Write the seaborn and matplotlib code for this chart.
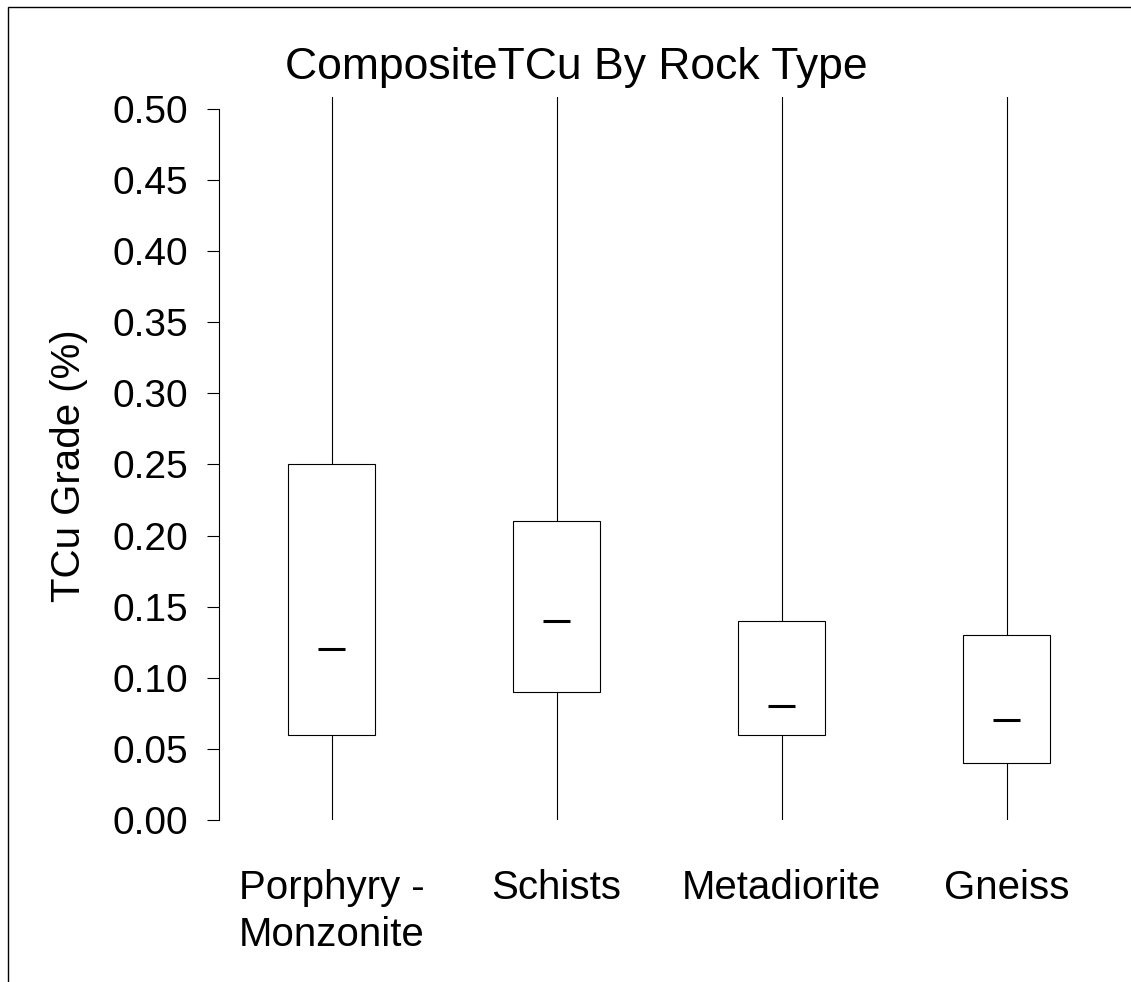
import numpy as np
import pandas as pd
import matplotlib
matplotlib.use("Agg")
import matplotlib.pyplot as plt
from matplotlib.patches import Rectangle
import seaborn as sns

# Five-number summaries of composite TCu grade (%) per rock type
rock_types = ["Porphyry -\nMonzonite", "Schists", "Metadiorite", "Gneiss"]
whisker_lo = [0.00, 0.00, 0.00, 0.00]
q1 = [0.06, 0.09, 0.06, 0.04]
median = [0.12, 0.14, 0.08, 0.07]
q3 = [0.25, 0.21, 0.14, 0.13]
whisker_hi = [0.51, 0.51, 0.51, 0.51]
y_ticks = [0.00, 0.05, 0.10, 0.15, 0.20, 0.25, 0.30, 0.35, 0.40, 0.45, 0.50]

rows = []
for name, lo, a, m, b, hi in zip(rock_types, whisker_lo, q1, median, q3, whisker_hi):
    for v in (lo, a, m, b, hi):
        rows.append({"rock": name, "tcu": v})
df = pd.DataFrame(rows)

sns.set_theme(style="white")
plt.rcParams["font.family"] = ["Liberation Sans", "DejaVu Sans"]
plt.rcParams["text.color"] = "black"
plt.rcParams["axes.labelcolor"] = "black"
plt.rcParams["xtick.color"] = "black"
plt.rcParams["ytick.color"] = "black"

W, H = 1131, 982
fig = plt.figure(figsize=(W / 100, H / 100), dpi=100)
ax = fig.add_axes([219 / W, (H - 820) / H, (1119 - 219) / W, (820 - 97) / H])

sns.boxplot(
    data=df, x="rock", y="tcu", order=rock_types, ax=ax,
    whis=(0, 100), width=0.39, showcaps=False, showfliers=False,
    boxprops=dict(facecolor="white", edgecolor="black", linewidth=0.8),
    whiskerprops=dict(color="black", linewidth=0.8),
    medianprops=dict(color="black", linewidth=2.2, solid_capstyle="butt"),
)

# short median dashes centred in each box
half = 0.058
for cont in ax.containers:
    for ln in getattr(cont, "medians", []):
        xd = np.asarray(ln.get_xdata(), dtype=float)
        c = xd.mean()
        ln.set_xdata([c - half, c + half])

ax.set_xlim(-0.5, 3.5)
ax.set_ylim(0, 0.5084)
ax.set_yticks(y_ticks)
ax.set_yticklabels([f"{t:.2f}" for t in y_ticks])
ax.tick_params(axis="y", length=9, width=0.8, pad=13, labelsize=28, left=True)
ax.tick_params(axis="x", length=0, pad=35, labelsize=29)
for lbl in ax.get_xticklabels():
    lbl.set_multialignment("left")
    lbl.set_linespacing(1.3)

for s in ("top", "right", "bottom"):
    ax.spines[s].set_visible(False)
ax.spines["left"].set_color("black")
ax.spines["left"].set_linewidth(0.8)
ax.spines["left"].set_bounds(0, 0.5)

ax.set_xlabel("")
ax.set_ylabel("TCu Grade (%)", fontsize=29)
ax.yaxis.set_label_coords(-0.146, 0.49)

fig.text(576 / W, 1 - 68 / H, "CompositeTCu By Rock Type", fontsize=32,
         ha="center", va="center")

# outer frame
fig.add_artist(Rectangle((8 / W, -0.05), 1.2, (H - 7) / H + 0.05,
                         transform=fig.transFigure, fill=False,
                         edgecolor="black", linewidth=1.0))

fig.savefig("out.png", dpi=100, facecolor="white")
